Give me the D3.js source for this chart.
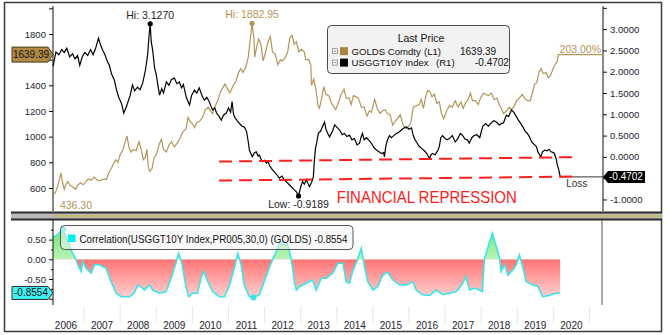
<!DOCTYPE html>
<html>
<head>
<meta charset="utf-8">
<script src="https://cdn.jsdelivr.net/npm/d3@7/dist/d3.min.js"></script>
<style>
  html, body { margin: 0; padding: 0; background: #fff; }
  svg { display: block; font-family: "Liberation Sans", Arial, sans-serif; }
</style>
</head>
<body>
<svg id="chart" width="670" height="335"></svg>
<script>
// ---- Data (decimal years, values) ----
// US 10Y TIPS real yield (USGGT10Y Index), right axis
const tipsYears = [2006.14,2006.18,2006.22,2006.30,2006.38,2006.45,2006.52,2006.60,2006.68,2006.75,2006.82,2006.88,2006.95,
2007.02,2007.10,2007.18,2007.25,2007.32,2007.40,2007.46,2007.52,2007.58,2007.64,2007.70,2007.76,2007.84,2007.90,2007.96,
2008.04,2008.10,2008.16,2008.22,2008.28,2008.34,2008.40,2008.48,2008.55,2008.62,2008.70,2008.76,2008.80,2008.83,2008.86,2008.90,2008.95,
2009.00,2009.05,2009.09,2009.15,2009.20,2009.28,2009.35,2009.42,2009.50,2009.57,2009.64,2009.70,2009.75,2009.83,2009.92,2009.98,
2010.06,2010.12,2010.19,2010.26,2010.33,2010.40,2010.47,2010.52,2010.56,2010.62,2010.67,2010.74,2010.80,2010.86,2010.94,
2011.00,2011.06,2011.10,2011.14,2011.18,2011.24,2011.30,2011.38,2011.44,2011.50,2011.55,2011.58,2011.62,2011.66,2011.72,2011.77,2011.82,2011.86,2011.90,2011.94,
2012.00,2012.05,2012.10,2012.13,2012.20,2012.27,2012.34,2012.41,2012.48,2012.55,2012.62,2012.69,2012.76,2012.83,2012.88,2012.94,
2013.00,2013.05,2013.10,2013.16,2013.24,2013.30,2013.35,2013.38,2013.41,2013.44,2013.49,2013.55,2013.60,2013.66,2013.70,2013.75,2013.80,2013.88,2013.94,
2014.00,2014.08,2014.15,2014.21,2014.28,2014.35,2014.42,2014.49,2014.56,2014.63,2014.67,2014.71,2014.76,2014.82,2014.90,2014.96,
2015.03,2015.10,2015.17,2015.24,2015.30,2015.32,2015.36,2015.40,2015.46,2015.51,2015.58,2015.65,2015.72,2015.79,2015.86,2015.93,
2016.00,2016.07,2016.12,2016.17,2016.21,2016.28,2016.35,2016.42,2016.49,2016.53,2016.57,2016.61,2016.65,2016.72,2016.76,2016.80,2016.84,2016.88,2016.93,2016.98,
2017.05,2017.12,2017.20,2017.28,2017.35,2017.42,2017.48,2017.55,2017.62,2017.67,2017.74,2017.80,2017.88,2017.96,
2018.04,2018.12,2018.20,2018.28,2018.35,2018.42,2018.50,2018.56,2018.62,2018.70,2018.76,2018.84,2018.90,2018.98,
2019.04,2019.10,2019.15,2019.22,2019.28,2019.34,2019.40,2019.46,2019.53,2019.58,2019.62,2019.65,2019.70,2019.76,2019.82,2019.88,2019.94,
2020.00,2020.03,2020.08,2020.11,2020.15,2020.19];
const tipsValues = [2.13,2.30,2.46,2.40,2.52,2.45,2.55,2.35,2.42,2.30,2.38,2.15,2.35,
2.45,2.38,2.52,2.40,2.55,2.79,2.62,2.50,2.40,2.25,2.15,1.95,1.80,1.57,1.40,
1.25,1.03,1.15,1.30,1.45,1.69,1.55,1.64,1.58,1.72,2.04,2.40,2.85,3.127,2.70,2.50,2.10,
1.92,1.65,1.45,1.60,1.50,1.76,1.68,1.82,1.85,1.72,1.76,1.62,1.70,1.40,1.22,1.45,
1.57,1.50,1.62,1.45,1.33,1.40,1.29,1.18,1.10,1.15,1.03,0.95,0.86,0.98,1.03,
1.15,1.05,1.30,1.00,0.92,0.85,0.79,0.72,0.70,0.60,0.35,0.16,0.08,0.00,0.10,0.12,0.02,0.04,-0.05,-0.11,
-0.08,-0.15,-0.10,-0.19,-0.28,-0.35,-0.42,-0.50,-0.45,-0.54,-0.60,-0.66,-0.72,-0.78,-0.82,-0.9189,
-0.70,-0.58,-0.64,-0.54,-0.70,-0.60,-0.47,-0.07,0.20,0.32,0.56,0.60,0.70,0.82,0.65,0.55,0.47,0.60,0.75,
0.70,0.63,0.52,0.55,0.48,0.51,0.40,0.43,0.28,0.32,0.45,0.55,0.40,0.45,0.38,0.32,
0.22,0.16,0.12,0.08,0.10,0.00,0.25,0.39,0.50,0.45,0.50,0.55,0.58,0.63,0.68,0.71,
0.65,0.68,0.50,0.40,0.35,0.25,0.20,0.15,0.08,0.02,-0.04,0.05,0.08,0.05,0.10,0.15,0.24,0.45,0.50,0.45,
0.40,0.43,0.50,0.35,0.42,0.55,0.51,0.42,0.40,0.32,0.45,0.50,0.52,0.45,
0.71,0.78,0.72,0.80,0.85,0.82,0.75,0.78,0.80,0.98,0.95,1.10,1.05,0.94,
0.85,0.78,0.71,0.60,0.55,0.47,0.35,0.30,0.24,0.10,0.05,0.00,0.12,0.16,0.14,0.18,0.12,
0.10,0.08,-0.05,-0.19,-0.30,-0.4702];

// Gold spot (GOLDS Comdty), left axis
const goldYears = [2006.14,2006.20,2006.25,2006.30,2006.36,2006.40,2006.45,2006.50,2006.55,2006.60,2006.68,2006.76,2006.82,2006.90,2006.98,
2007.05,2007.12,2007.20,2007.28,2007.35,2007.42,2007.50,2007.58,2007.62,2007.68,2007.75,2007.82,2007.88,2007.94,
2008.00,2008.08,2008.14,2008.19,2008.24,2008.30,2008.36,2008.44,2008.52,2008.58,2008.64,2008.70,2008.74,2008.78,2008.82,2008.88,2008.94,
2009.00,2009.08,2009.14,2009.20,2009.28,2009.36,2009.42,2009.50,2009.58,2009.66,2009.74,2009.82,2009.88,2009.93,
2010.00,2010.06,2010.12,2010.20,2010.28,2010.36,2010.44,2010.50,2010.56,2010.62,2010.70,2010.78,2010.84,2010.90,2010.96,
2011.04,2011.12,2011.20,2011.28,2011.34,2011.40,2011.48,2011.55,2011.60,2011.655,2011.70,2011.73,2011.78,2011.84,2011.90,2011.96,
2012.03,2012.10,2012.16,2012.22,2012.30,2012.37,2012.44,2012.50,2012.56,2012.64,2012.70,2012.76,2012.82,2012.88,2012.95,
2013.02,2013.10,2013.14,2013.22,2013.28,2013.30,2013.36,2013.42,2013.48,2013.52,2013.58,2013.64,2013.70,2013.78,2013.84,2013.90,2013.97,
2014.04,2014.12,2014.20,2014.26,2014.34,2014.40,2014.46,2014.54,2014.60,2014.68,2014.76,2014.84,2014.90,2014.96,
2015.05,2015.12,2015.20,2015.26,2015.34,2015.40,2015.48,2015.55,2015.62,2015.68,2015.76,2015.84,2015.92,2015.97,
2016.05,2016.12,2016.20,2016.28,2016.34,2016.40,2016.47,2016.52,2016.58,2016.64,2016.70,2016.77,2016.84,2016.90,2016.96,
2017.04,2017.12,2017.20,2017.28,2017.36,2017.44,2017.50,2017.56,2017.64,2017.70,2017.76,2017.84,2017.92,2017.98,
2018.06,2018.12,2018.20,2018.28,2018.36,2018.44,2018.50,2018.56,2018.62,2018.70,2018.78,2018.84,2018.92,2018.98,
2019.06,2019.14,2019.20,2019.28,2019.36,2019.42,2019.48,2019.54,2019.60,2019.66,2019.72,2019.80,2019.86,2019.92,2019.98,
2020.04,2020.10,2020.14,2020.19];
const goldValues = [553,560,600,650,717,650,590,630,650,625,610,590,620,640,625,
650,670,660,685,665,655,665,670,665,715,750,790,820,800,
860,900,960,1005,920,880,900,890,960,900,820,840,900,760,730,750,840,
860,940,980,900,880,940,960,920,950,990,1040,1060,1150,1120,
1100,1070,1110,1120,1150,1210,1230,1200,1180,1230,1280,1350,1380,1410,1380,
1340,1390,1430,1500,1530,1500,1540,1620,1750,1882.95,1780,1620,1700,1760,1720,1590,
1660,1740,1780,1660,1640,1560,1600,1590,1610,1660,1770,1790,1720,1740,1660,
1680,1660,1600,1600,1560,1400,1450,1370,1240,1220,1300,1390,1330,1320,1270,1240,1210,
1260,1330,1370,1300,1300,1250,1320,1310,1300,1230,1230,1160,1200,1190,
1290,1220,1180,1200,1210,1180,1170,1090,1120,1140,1170,1090,1060,1070,
1110,1230,1240,1250,1290,1220,1320,1360,1350,1310,1330,1260,1270,1180,1140,
1200,1240,1230,1280,1230,1270,1220,1260,1290,1340,1280,1280,1250,1300,
1340,1330,1320,1340,1290,1300,1250,1220,1180,1200,1230,1210,1240,1280,
1300,1330,1300,1280,1280,1340,1410,1420,1500,1530,1490,1500,1460,1475,1520,
1560,1580,1640,1639.39];

// 30-period correlation of the two series, lower panel
const corrYears = [2006.14,2006.25,2006.42,2006.55,2006.68,2006.78,2006.81,2006.92,2006.96,2007.06,2007.19,2007.29,2007.42,2007.61,2007.75,2007.89,
2008.03,2008.26,2008.39,2008.49,2008.58,2008.67,2008.81,2008.90,2009.09,2009.27,2009.41,2009.53,2009.62,2009.72,2009.81,2009.90,
2010.00,2010.14,2010.24,2010.31,2010.43,2010.56,2010.75,2010.89,2011.03,2011.16,2011.26,2011.35,2011.44,2011.58,2011.69,2011.86,
2012.04,2012.18,2012.32,2012.41,2012.52,2012.63,2012.74,2012.83,2012.88,2012.97,2013.15,2013.33,2013.43,2013.57,2013.71,2013.89,
2014.03,2014.17,2014.26,2014.35,2014.44,2014.55,2014.68,2014.77,2014.86,2015.00,2015.14,2015.27,2015.41,2015.55,2015.74,2015.92,
2016.11,2016.20,2016.38,2016.57,2016.75,2016.94,2017.12,2017.31,2017.49,2017.57,2017.68,2017.81,2017.95,
2018.03,2018.09,2018.18,2018.31,2018.42,2018.51,2018.55,2018.65,2018.74,2018.88,2018.97,2019.06,2019.15,2019.25,2019.43,2019.57,2019.71,2019.88,2020.07,2020.19];
const corrValues = [0.55,0.62,0.76,0.45,0.15,0.0,-0.10,-0.31,-0.06,-0.23,-0.35,-0.14,-0.14,-0.23,-0.57,-0.86,
-0.95,-0.95,-0.86,-0.65,-0.70,-0.78,-0.65,-0.78,-0.86,-0.82,-0.48,-0.14,0.15,-0.14,-0.65,-0.95,
-0.86,-0.86,-0.48,-0.31,-0.57,-0.82,-0.95,-0.95,-0.65,-0.23,0.15,-0.14,-0.65,-0.95,-0.97,-0.90,
-0.44,-0.10,0.19,0.40,0.44,0.40,0.0,-0.60,-0.78,-0.69,-0.61,-0.52,-0.78,-0.48,-0.48,-0.35,
-0.10,-0.10,-0.57,-0.61,-0.31,-0.06,0.28,-0.19,-0.57,-0.78,-0.69,-0.40,-0.33,-0.52,-0.65,-0.65,
-0.57,-0.78,-0.90,-0.92,-0.78,-0.90,-0.86,-0.82,-0.61,-0.44,-0.78,-0.73,-0.78,
-0.82,0.0,0.28,0.66,0.32,0.03,-0.31,-0.14,-0.40,-0.27,-0.14,0.11,-0.19,-0.57,-0.65,-0.69,-0.95,-0.92,-0.86,-0.8554];

// Axis ticks (labels hidden behind the value tags are left blank)
const goldTicks = [600, 800, 1000, 1200, 1400, 1600, 1800];
const tipsTicks = [-1, -0.5, 0, 0.5, 1, 1.5, 2, 2.5, 3];
const corrTicks = [-1, -0.5, 0, 0.5];
const corrMinor = [-0.75, -0.25, 0.25, 0.75];
const years = d3.range(2006, 2021);

// Annotation levels (real yield) for the two dashed guide lines
const guideUpper = [[2010.74, -0.11], [2020.65, -0.005]];
const guideLower = [[2010.74, -0.556], [2020.65, -0.462]];

const lastGold = goldValues[goldValues.length - 1];
const lastTips = tipsValues[tipsValues.length - 1];
const lastCorr = corrValues[corrValues.length - 1];

// ---- Helpers ----
function decDate(t) {
  const y = Math.floor(t);
  const a = new Date(y, 0, 1), b = new Date(y + 1, 0, 1);
  return new Date(+a + (t - y) * (b - a));
}
const zip = (ts, vs) => ts.map((t, i) => ({ d: decDate(t), v: vs[i] }));
const tipsData = zip(tipsYears, tipsValues);
const goldData = zip(goldYears, goldValues);
const corrData = zip(corrYears, corrValues);

// ---- Layout ----
const svg = d3.select("#chart");
const axL = 53, axR = 603;
const topY0 = 6, topY1 = 211;
const botY0 = 220, botY1 = 305;

const x = d3.scaleTime().domain([new Date(2006, 0, 1), new Date(2021, 0, 1)]).range([48, 48 + 15 * 36.1]);
const yL = d3.scaleLinear().domain([430, 2000]).range([209.8, 8.33]);
const yR = d3.scaleLinear().domain([-1.25, 3.5]).range([210.1, 7.85]);
const yC = d3.scaleLinear().domain([-1.15, 1.0]).range([304.6, 219.9]);

const GOLD = "#b5945a";
const CYAN = "#38e6e8";
const TXT = "#1e2430";

// Outer frame
svg.append("rect").attr("x", 4.5).attr("y", 2.5).attr("width", 657).attr("height", 329)
  .attr("fill", "#fff").attr("stroke", "#3a3a3a").attr("stroke-width", 1.5);

// Year separators under the lower panel
svg.append("g").selectAll("line").data(d3.range(2007, 2022)).join("line")
  .attr("x1", d => x(new Date(d, 0, 1))).attr("x2", d => x(new Date(d, 0, 1)))
  .attr("y1", 306).attr("y2", 323).attr("stroke", "#e6e6e6").attr("stroke-width", 1);

// Year labels
svg.append("g").selectAll("text").data(years).join("text")
  .attr("x", d => x(new Date(d, 6, 2))).attr("y", 329)
  .attr("text-anchor", "middle").attr("font-size", 10).attr("fill", TXT)
  .text(d => d);

// ---- Top panel axes ----
const styleAxis = g => g.call(s => s.select(".domain").remove())
  .call(s => s.selectAll("text").attr("font-size", 9.6).attr("fill", TXT).attr("font-family", "Liberation Sans, Arial, sans-serif"))
  .call(s => s.selectAll("line").attr("stroke", "#111"));

svg.append("g").attr("transform", `translate(${axL},0)`)
  .call(d3.axisLeft(yL).tickValues([...goldTicks, 2000]).tickSize(4).tickPadding(3)
    .tickFormat(d => (d === 2000 || d === 1600) ? "" : d))
  .call(styleAxis);
svg.append("g").attr("transform", `translate(${axR},0)`)
  .call(d3.axisRight(yR).tickValues([...tipsTicks, 3.5]).tickSize(4).tickPadding(3)
    .tickFormat(d => (d === 3.5 || d === -0.5) ? "" : d.toFixed(4)))
  .call(styleAxis);
svg.append("line").attr("x1", axL).attr("x2", axL).attr("y1", topY0).attr("y2", topY1).attr("stroke", "#111");
svg.append("line").attr("x1", axR).attr("x2", axR).attr("y1", topY0).attr("y2", topY1).attr("stroke", "#111");

// ---- Top panel lines ----
const lineL = d3.line().x(d => x(d.d)).y(d => yL(d.v));
const lineR = d3.line().x(d => x(d.d)).y(d => yR(d.v));

svg.append("path").datum(goldData).attr("d", lineL)
  .attr("fill", "none").attr("stroke", GOLD).attr("stroke-width", 1.2);
svg.append("path").datum(tipsData).attr("d", lineR)
  .attr("fill", "none").attr("stroke", "#000").attr("stroke-width", 1.2);

// Last-value leaders to the axis
const gEnd = goldData[goldData.length - 1], tEnd = tipsData[tipsData.length - 1];
svg.append("line").attr("x1", x(gEnd.d)).attr("x2", axR).attr("y1", yL(lastGold)).attr("y2", yL(lastGold))
  .attr("stroke", GOLD).attr("stroke-width", 1.2);
svg.append("line").attr("x1", x(tEnd.d)).attr("x2", axR).attr("y1", yR(lastTips)).attr("y2", yR(lastTips))
  .attr("stroke", "#333").attr("stroke-width", 1);

// Hi / Lo markers
const tipsHi = tipsData.reduce((a, b) => b.v > a.v ? b : a);
const tipsLo = tipsData.reduce((a, b) => b.v < a.v ? b : a);
const goldHi = goldData.reduce((a, b) => b.v > a.v ? b : a);

svg.append("circle").attr("cx", x(tipsHi.d)).attr("cy", yR(tipsHi.v)).attr("r", 2.6).attr("fill", "#000");
svg.append("text").attr("x", x(tipsHi.d)).attr("y", yR(tipsHi.v) - 5).attr("text-anchor", "middle")
  .attr("font-size", 10.5).attr("fill", "#222").text("Hi: " + tipsHi.v.toFixed(4));

svg.append("circle").attr("cx", x(goldHi.d)).attr("cy", yL(goldHi.v)).attr("r", 2.6).attr("fill", GOLD);
svg.append("text").attr("x", x(goldHi.d)).attr("y", yL(goldHi.v) - 5).attr("text-anchor", "middle")
  .attr("font-size", 10.5).attr("fill", GOLD).text("Hi: " + goldHi.v.toFixed(2));

svg.append("circle").attr("cx", x(tipsLo.d)).attr("cy", yR(tipsLo.v)).attr("r", 2.6).attr("fill", "#000");
svg.append("text").attr("x", x(tipsLo.d)).attr("y", yR(tipsLo.v) + 12).attr("text-anchor", "middle")
  .attr("font-size", 10.5).attr("fill", "#222").text("Low: " + tipsLo.v.toFixed(4));

// Other value notes
svg.append("text").attr("x", x(decDate(2006.33))).attr("y", yL(436.3)).attr("font-size", 10.5)
  .attr("fill", GOLD).text("436.30");
svg.append("text").attr("x", axR - 2).attr("y", yL(lastGold) - 1.5).attr("text-anchor", "end")
  .attr("font-size", 10.5).attr("fill", GOLD).text("203.00%");
svg.append("text").attr("x", x(tEnd.d) + 6).attr("y", yR(lastTips) + 10).attr("font-size", 10)
  .attr("fill", "#333").text("Loss");

// Dashed guide lines
const guideLine = d3.line().x(d => x(decDate(d[0]))).y(d => yR(d[1]));
[guideUpper, guideLower].forEach(gd => {
  svg.append("path").datum(gd).attr("d", guideLine).attr("fill", "none")
    .attr("stroke", "#ff1f1f").attr("stroke-width", 2).attr("stroke-dasharray", "13,7");
});
svg.append("text").attr("x", x(decDate(2014.0))).attr("y", yR(-1.08))
  .attr("font-size", 17).attr("fill", "#ff1a1a").attr("textLength", 180).attr("lengthAdjust", "spacingAndGlyphs")
  .text("FINANCIAL REPRESSION");

// Value tags on the axes
const yg = yL(lastGold);
svg.append("path").attr("d", `M12,${yg - 7.5}H48L53,${yg}L48,${yg + 7.5}H12Z`)
  .attr("fill", "#b08a45").attr("stroke", "#4a3b1e").attr("stroke-width", 1);
svg.append("text").attr("x", 31).attr("y", yg + 3.5).attr("text-anchor", "middle")
  .attr("font-size", 10).attr("fill", "#111").text(lastGold.toFixed(2));

const yt = yR(lastTips);
svg.append("path").attr("d", `M${axR},${yt}L${axR + 5},${yt - 6}H645V${yt + 6}H${axR + 5}Z`).attr("fill", "#000");
svg.append("text").attr("x", 609).attr("y", yt + 3.5).attr("font-size", 10).attr("fill", "#fff").text(lastTips.toFixed(4));

// Top legend
const lg = svg.append("g");
lg.append("rect").attr("x", 327.5).attr("y", 25.5).attr("width", 182).attr("height", 48).attr("rx", 4)
  .attr("fill", "#f2f2f2").attr("stroke", "#4a4a4a");
lg.append("text").attr("x", 421).attr("y", 41.5).attr("text-anchor", "middle").attr("font-size", 10.5)
  .attr("fill", "#111").text("Last Price");
const rows = [
  { c: "#a8843e", name: "GOLDS Comdty", ax: "(L1)", axX: 424, val: lastGold.toFixed(2), vx: 460, y: 51.2 },
  { c: "#000", name: "USGGT10Y Index", ax: "(R1)", axX: 436, val: lastTips.toFixed(4), vx: 475, y: 62.6 }
];
rows.forEach(r => {
  lg.append("rect").attr("x", 332.5).attr("y", r.y - 2.5).attr("width", 5).attr("height", 5)
    .attr("fill", "#fff").attr("stroke", "#888").attr("stroke-width", 0.8);
  lg.append("line").attr("x1", 333.5).attr("x2", 336.5).attr("y1", r.y).attr("y2", r.y).attr("stroke", "#777").attr("stroke-width", 0.8);
  lg.append("rect").attr("x", 340).attr("y", r.y - 4).attr("width", 8).attr("height", 8).attr("fill", r.c);
  lg.append("text").attr("x", 351.5).attr("y", r.y + 3.5).attr("font-size", 9.6).attr("fill", "#111").text(r.name);
  lg.append("text").attr("x", r.axX).attr("y", r.y + 3.5).attr("font-size", 9.6).attr("fill", "#111").text(r.ax);
  lg.append("text").attr("x", r.vx).attr("y", r.y + 3.5).attr("font-size", 10).attr("fill", "#111").text(r.val);
});

// ---- Panel divider ----
svg.append("rect").attr("x", 11).attr("y", 212).attr("width", 651).attr("height", 8).attr("fill", "#b9b9b9");
svg.append("line").attr("x1", 11).attr("x2", 662).attr("y1", 212.5).attr("y2", 212.5).attr("stroke", "#2b2b2b").attr("stroke-width", 2);
svg.append("line").attr("x1", 11).attr("x2", 662).attr("y1", 219.5).attr("y2", 219.5).attr("stroke", "#2b2b2b").attr("stroke-width", 2);
svg.append("line").attr("x1", 55).attr("x2", 660).attr("y1", 216).attr("y2", 216).attr("stroke", "#d8bc10").attr("stroke-width", 1);

// ---- Lower panel: correlation ----
const defs = svg.append("defs");
const z0 = yC(0);
const red = defs.append("linearGradient").attr("id", "gRed").attr("gradientUnits", "userSpaceOnUse")
  .attr("x1", 0).attr("x2", 0).attr("y1", z0).attr("y2", yC(-1));
red.append("stop").attr("offset", 0).attr("stop-color", "#ff7474");
red.append("stop").attr("offset", 1).attr("stop-color", "#ffd4d4");
const grn = defs.append("linearGradient").attr("id", "gGreen").attr("gradientUnits", "userSpaceOnUse")
  .attr("x1", 0).attr("x2", 0).attr("y1", yC(0.8)).attr("y2", z0);
grn.append("stop").attr("offset", 0).attr("stop-color", "#6fe46f");
grn.append("stop").attr("offset", 1).attr("stop-color", "#b8f4b8");
defs.append("clipPath").attr("id", "cPos").append("rect").attr("x", 0).attr("y", 0).attr("width", 670).attr("height", z0);
defs.append("clipPath").attr("id", "cNeg").append("rect").attr("x", 0).attr("y", z0).attr("width", 670).attr("height", 335 - z0);

const area = d3.area().x(d => x(d.d)).y0(z0).y1(d => yC(d.v));
svg.append("path").datum(corrData).attr("d", area).attr("fill", "url(#gGreen)").attr("clip-path", "url(#cPos)");
svg.append("path").datum(corrData).attr("d", area).attr("fill", "url(#gRed)").attr("clip-path", "url(#cNeg)");
svg.append("path").datum(corrData).attr("d", d3.line().x(d => x(d.d)).y(d => yC(d.v)))
  .attr("fill", "none").attr("stroke", CYAN).attr("stroke-width", 1.6);

const corrHi = corrData.reduce((a, b) => b.v > a.v ? b : a);
const corrLo = corrData.reduce((a, b) => b.v < a.v ? b : a);
[corrHi, corrLo].forEach(p => svg.append("circle").attr("cx", x(p.d)).attr("cy", yC(p.v)).attr("r", 3).attr("fill", CYAN));

// Lower axes
svg.append("g").attr("transform", `translate(${axL},0)`)
  .call(d3.axisLeft(yC).tickValues(corrTicks).tickSize(4).tickPadding(3)
    .tickFormat(d => d === -1 ? "" : d.toFixed(2)))
  .call(styleAxis);
svg.append("g").attr("transform", `translate(${axL},0)`)
  .call(d3.axisLeft(yC).tickValues(corrMinor).tickSize(2).tickFormat(""))
  .call(styleAxis);
svg.append("line").attr("x1", axL).attr("x2", axL).attr("y1", botY0).attr("y2", botY1).attr("stroke", "#111");
svg.append("line").attr("x1", axR - 1).attr("x2", axR - 1).attr("y1", botY0).attr("y2", botY1).attr("stroke", "#555");

// Lower legend
const lg2 = svg.append("g");
lg2.append("rect").attr("x", 60.5).attr("y", 225.5).attr("width", 292.5).attr("height", 24).attr("rx", 4)
  .attr("fill", "#f4f4f4").attr("fill-opacity", 0.55).attr("stroke", "#555");
lg2.append("rect").attr("x", 68).attr("y", 234.5).attr("width", 7.5).attr("height", 7.5).attr("fill", "#00f0f0");
lg2.append("text").attr("x", 79.5).attr("y", 242.5).attr("font-size", 10.5).attr("fill", "#111")
  .attr("textLength", 268).attr("lengthAdjust", "spacingAndGlyphs")
  .text("Correlation(USGGT10Y Index,PR005,30,0) (GOLDS) " + lastCorr.toFixed(4));

// Correlation tag
const yc = yC(lastCorr);
svg.append("path").attr("d", `M12,${yc - 6.5}H48L53,${yc}L48,${yc + 6.5}H12Z`)
  .attr("fill", "#3ff0f0").attr("stroke", "#333").attr("stroke-width", 1);
svg.append("text").attr("x", 31).attr("y", yc + 3.5).attr("text-anchor", "middle")
  .attr("font-size", 10).attr("fill", "#111").text(lastCorr.toFixed(4));
</script>
</body>
</html>
